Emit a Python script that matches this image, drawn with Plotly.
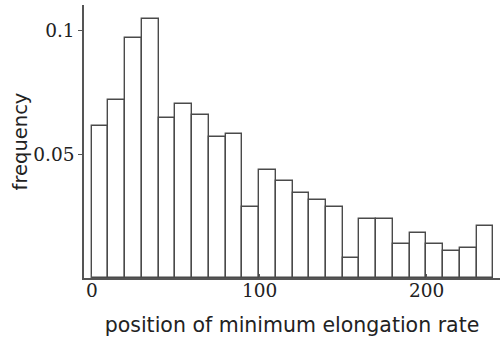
import plotly.graph_objects as go

bin_starts = list(range(0, 240, 10))
bin_width = 10
frequency = [0.0614, 0.0720, 0.0970, 0.1044, 0.0645, 0.0701, 0.0658, 0.0570,
             0.0583, 0.0287, 0.0434, 0.0390, 0.0345, 0.0316, 0.0286, 0.0079,
             0.0240, 0.0240, 0.0137, 0.0181, 0.0137, 0.0108, 0.0122, 0.0211]
x_tickvals = [0, 100, 200]
x_ticktext = ["0", "100", "200"]
y_tickvals = [0.05, 0.1]
y_ticktext = ["0.05", "0.1"]

centers = [s + bin_width / 2 for s in bin_starts]

fig = go.Figure(go.Bar(
    x=centers, y=frequency, width=[bin_width] * len(centers),
    marker=dict(color="white", line=dict(color="#4a4a4a", width=1.4)),
))

tick_font = dict(family="DejaVu Serif", size=18.5, color="#222222")

fig.update_layout(
    width=500, height=341,
    margin=dict(l=84, r=0, t=5, b=63),
    paper_bgcolor="white", plot_bgcolor="white",
    showlegend=False,
    bargap=0,
    annotations=[
        dict(x=tv, y=0, xref="x", yref="y", text=tt, showarrow=False,
             yanchor="top", xanchor="center", yshift=0, font=tick_font)
        for tv, tt in zip(x_tickvals, x_ticktext)
    ],
)
fig.update_xaxes(
    range=[-4.6, 244], showgrid=False, zeroline=False,
    showline=True, linecolor="#555555", linewidth=1.5,
    tickvals=x_tickvals, showticklabels=False,
    ticks="inside", ticklen=4, tickcolor="#555555",
    title=dict(text="position of minimum elongation rate",
               font=dict(family="DejaVu Sans", size=20.5, color="#222222"),
               standoff=39),
)
fig.update_yaxes(
    range=[0, 0.1102], showgrid=False, zeroline=False,
    showline=True, linecolor="#555555", linewidth=1.5,
    tickvals=y_tickvals, ticktext=y_ticktext,
    ticks="outside", ticklen=4, tickcolor="#555555",
    tickfont=tick_font,
    title=dict(text="frequency",
               font=dict(family="DejaVu Sans", size=19.5, color="#222222"),
               standoff=1),
)

fig.write_html("out.html")
